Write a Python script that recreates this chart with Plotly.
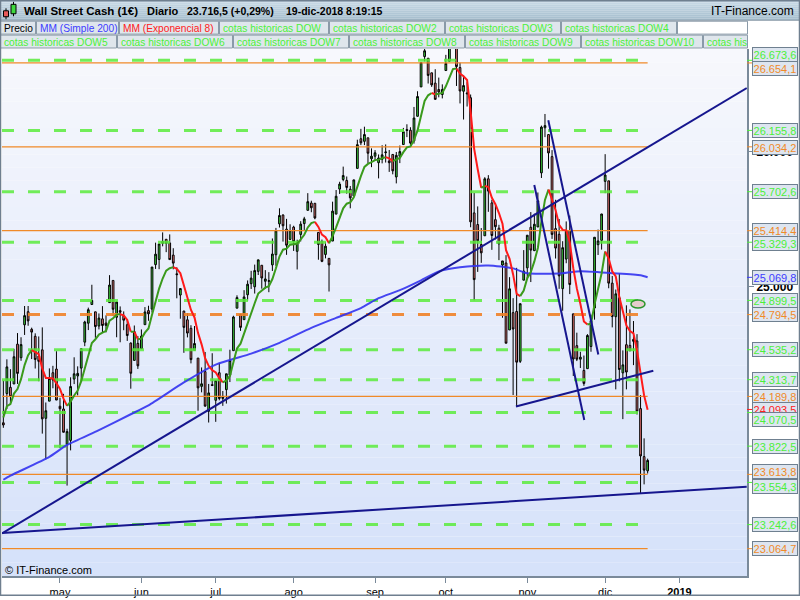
import plotly.graph_objects as go
import pandas as pd

FONT = "Liberation Sans, Arial, sans-serif"

# ---------------- data ----------------
dates = pd.bdate_range("2018-04-09", "2018-12-19")  # daily sessions (weekdays)

open_ = [
    # Apr
    23995, 24211, 24257, 24282, 24576, 24476, 24719, 24816, 24686, 24634, 24488, 24534, 24028, 24155, 24365, 24392,
    # May
    24117, 24097, 23836, 23865, 24318, 24341, 24399, 24591, 24731, 24869, 24815, 24710, 24763, 24732, 24883, 25047,
    24775, 24824, 24783, 24720, 24584, 24456, 24582,
    # Jun
    24542, 24720, 24824, 24835, 25164, 25202, 25334, 25351, 25324, 25234, 25096, 24939, 24821, 24756, 24693, 24531,
    24473, 24264, 24373, 24080, 24277,
    # Jul
    24161, 24365, 24175, 24240, 24347, 24528, 24842, 24795, 24757, 24941, 25023, 25000, 25114, 25159, 25041, 25041,
    25162, 25237, 25465, 25530, 25426, 25350,
    # Aug
    25441, 25262, 25387, 25467, 25565, 25619, 25617, 25402, 25335, 25239, 25210, 25338, 25537, 25722, 25793, 25786,
    25721, 25672, 25875, 26094, 26075, 26101, 25946,
    # Sep
    25965, 25917, 25942, 25991, 25930, 25978, 25812, 25965, 26051, 26162, 26157, 26078, 26260, 26477, 26701, 26689,
    26581, 26505, 26458, 26421,
    # Oct
    26598, 26667, 26833, 26804, 26620, 26445, 26425, 26397, 25546, 25460, 25312, 25377, 25798, 25620, 25496, 25433,
    25161, 25176, 24681, 24809, 24818, 24449, 25049,
    # Nov
    25140, 25440, 25267, 25442, 25842, 26175, 26125, 25962, 25430, 25388, 24986, 25205, 25416, 24800, 24565, 24465,
    24382, 24395, 24559, 24843, 25311, 25343,
    # Dec
    25779, 25783, 25027, 24779, 24919, 24364, 24572, 24567, 24611, 24600, 24100, 23745, 23640,
]
high = [
    24307, 24464, 24391, 24542, 24658, 24627, 24858, 24858, 24698, 24656, 24633, 24700, 24145, 24397, 24416, 24524,
    24180, 24209, 23951, 24331, 24479, 24412, 24542, 24749, 24846, 25015, 24815, 24803, 24857, 24789, 25086, 25047,
    24894, 24855, 24818, 24760, 24589, 24714, 24636,
    24685, 24850, 24860, 25146, 25326, 25317, 25402, 25352, 25387, 25285, 25144, 24990, 24821, 24806, 24716, 24710,
    24473, 24404, 24518, 24282, 24509,
    24310, 24438, 24230, 24357, 24535, 24786, 24937, 24801, 24975, 25047, 25118, 25164, 25200, 25159, 25123, 25108,
    25357, 25435, 25580, 25536, 25502, 25462,
    25451, 25348, 25485, 25517, 25692, 25636, 25617, 25402, 25349, 25332, 25210, 25629, 25715, 25776, 25888, 25815,
    25745, 25791, 26087, 26167, 26183, 26101, 26023,
    26010, 25978, 26046, 26052, 26011, 25979, 25996, 26044, 26174, 26201, 26179, 26329, 26445, 26657, 26769, 26689,
    26582, 26608, 26546, 26496,
    26714, 26809, 26951, 26805, 26656, 26562, 26512, 26421, 25693, 25594, 25434, 25810, 25825, 25643, 25611, 25458,
    25191, 25234, 25071, 24916, 25140, 24875, 25271,
    25380, 25552, 25540, 25697, 26191, 26277, 26125, 26010, 25643, 25501, 25337, 25483, 25526, 24800, 24661, 24520,
    24492, 24650, 24794, 25367, 25423, 25539,
    25980, 25783, 25080, 24980, 25098, 24530, 24863, 24833, 24747, 24650, 24200, 23880, 23730,
]
low = [
    23958, 24097, 24128, 24282, 24282, 24453, 24644, 24712, 24466, 24396, 24302, 23915, 23724, 24155, 24250, 24163,
    23808, 23924, 23531, 23791, 24281, 24198, 24303, 24561, 24680, 24869, 24623, 24685, 24665, 24663, 24883, 24784,
    24627, 24590, 24679, 24600, 24247, 24456, 24393,
    24542, 24720, 24749, 24810, 25132, 25130, 25299, 25256, 25201, 25129, 24915, 24764, 24512, 24626, 24434, 24531,
    24084, 24220, 24115, 23997, 24266,
    24002, 24161, 24120, 24137, 24296, 24528, 24842, 24674, 24757, 24898, 24984, 24950, 25087, 24986, 24986, 24960,
    25117, 25155, 25438, 25334, 25236, 25350,
    25265, 25128, 25335, 25420, 25565, 25551, 25499, 25200, 25182, 25210, 24965, 25338, 25537, 25686, 25780, 25688,
    25580, 25672, 25875, 26047, 26047, 25912, 25884,
    25930, 25801, 25912, 25918, 25849, 25831, 25764, 25914, 26051, 26106, 26049, 26058, 26258, 26477, 26666, 26502,
    26477, 26385, 26400, 26392,
    26598, 26663, 26808, 26484, 26355, 26236, 26332, 25440, 24900, 25110, 25177, 25377, 25554, 25273, 25350, 25197,
    24771, 24583, 24681, 24200, 24114, 24437, 25049,
    25063, 25035, 25264, 25442, 25804, 26106, 25873, 25354, 25209, 24985, 24823, 25174, 24946, 24341, 24451, 24400,
    24268, 24395, 24520, 24757, 25235, 25275,
    25692, 24989, 24700, 24242, 24301, 24022, 24242, 24526, 24421, 24056, 23470, 23540, 23620,
]
close = [
    23979, 24408, 24189, 24483, 24360, 24573, 24787, 24748, 24665, 24463, 24449, 24024, 24084, 24322, 24311, 24163,
    24099, 23925, 23930, 24263, 24357, 24360, 24543, 24740, 24831, 24899, 24706, 24769, 24714, 24715, 25013, 24834,
    24887, 24812, 24753, 24640, 24361, 24668, 24416,
    24635, 24814, 24800, 25146, 25241, 25317, 25322, 25321, 25201, 25175, 25090, 24987, 24700, 24658, 24462, 24581,
    24253, 24283, 24118, 24216, 24271,
    24307, 24175, 24190, 24357, 24456, 24777, 24920, 24700, 24925, 25019, 25064, 25120, 25199, 25065, 25058, 25044,
    25242, 25414, 25527, 25451, 25307, 25415,
    25334, 25326, 25463, 25502, 25629, 25584, 25509, 25313, 25188, 25300, 25162, 25559, 25669, 25759, 25822, 25734,
    25657, 25790, 26050, 26064, 26125, 25987, 25965,
    25990, 25952, 25975, 25996, 25917, 25857, 25971, 25999, 26146, 26155, 26062, 26247, 26406, 26657, 26744, 26562,
    26492, 26385, 26440, 26458,
    26651, 26774, 26828, 26627, 26447, 26487, 26431, 25480, 25053, 25340, 25251, 25798, 25707, 25379, 25444, 25317,
    25191, 24583, 24985, 24688, 24443, 24875, 25116,
    25381, 25271, 25462, 25635, 26180, 26191, 25989, 25387, 25286, 25081, 25289, 25413, 25017, 24466, 24465, 24480,
    24286, 24640, 24749, 25366, 25339, 25538,
    25826, 25027, 24780, 24948, 24389, 24423, 24370, 24527, 24597, 24080, 23750, 23645, 23717,
]

ema_seed = 24050          # EMA(8) value just before the first visible session
ema_period = 8

sma200_dates = ["2018-04-09", "2018-04-11", "2018-04-26", "2018-05-03", "2018-05-16", "2018-05-29", "2018-06-05",
                "2018-06-19", "2018-07-02", "2018-07-16", "2018-07-26", "2018-08-08", "2018-08-17", "2018-08-28",
                "2018-09-04", "2018-09-12", "2018-09-20", "2018-09-27", "2018-10-05", "2018-10-17", "2018-10-26",
                "2018-11-01", "2018-11-15", "2018-11-22", "2018-12-05", "2018-12-17", "2018-12-19"]
sma200_values = [23574, 23604, 23743, 23831, 23941, 24058, 24124, 24293, 24425, 24506, 24586, 24696, 24770, 24843,
                 24916, 24975, 25048, 25114, 25144, 25158, 25136, 25100, 25100, 25114, 25100, 25085, 25070]

levels_green = [26673.6, 26155.8, 25702.6, 25329.3, 24899.5, 24535.2, 24313.7, 24070.5, 23822.5, 23554.3, 23242.6]
levels_orange = [26654.1, 26034.2, 25414.4, 24189.8, 23613.8, 23064.7]
levels_orange_dash = [24794.5]
sma_last = 25069.8
ema_last = 24093.5

# hand-drawn trend lines (start date, start price, end date, end price)
trend_x0 = ["2018-04-06 15:00", "2018-04-06 15:00", "2018-11-08 22:30", "2018-11-02 23:30", "2018-10-26 19:00"]
trend_y0 = [23178, 23180, 26231, 25752, 24115]
trend_x1 = ["2019-01-28 00:00", "2019-01-28 00:00", "2018-11-29 01:30", "2018-11-23 02:30", "2018-12-20 14:30"]
trend_y1 = [26469, 23523, 24500, 24016, 24379]

ellipse_x = ["2018-12-12 07:00", "2018-12-18 06:00"]
ellipse_y = [24843, 24902]

month_ticks = ["2018-05-01", "2018-06-01", "2018-07-02", "2018-08-01", "2018-09-03", "2018-10-01",
               "2018-11-01", "2018-12-03", "2019-01-01"]
month_labels = ["may", "jun", "jul", "ago", "sep", "oct", "nov", "dic", "<b>2019</b>"]

x_range = ["2018-04-06 14:53", "2019-01-28 01:40"]
y_range = [22862.8, 26757.2]

# ---------------- layout helpers ----------------
L, R, T, B = 2, 747, 49, 580
W, H = R - L, B - T


def pxx(x):
    return (x - L) / W


def pxy(y):
    return (B - y) / H


def fmt(v):
    s = f"{v:,.1f}"
    return s.replace(",", "X").replace(".", ",").replace("X", ".")


GREEN_TXT = "#4cf03a"
ORANGE = "#f08a28"
BLUE_TXT = "#3c3cff"
RED = "#ff2020"

fig = go.Figure()

# candles
fig.add_trace(go.Candlestick(
    x=dates, open=open_, high=high, low=low, close=close,
    increasing=dict(line=dict(color="#000000", width=1), fillcolor="#3fd83f"),
    decreasing=dict(line=dict(color="#000000", width=1), fillcolor="#f07878"),
    whiskerwidth=0, hoverinfo="skip", showlegend=False))

line_start = x_range[0]
line_end = dates[-1]

for v in levels_orange:
    fig.add_trace(go.Scatter(x=[line_start, line_end], y=[v, v], mode="lines",
                             line=dict(color=ORANGE, width=1.2), hoverinfo="skip", showlegend=False))
for v in levels_green:
    fig.add_trace(go.Scatter(x=[line_start, line_end], y=[v, v], mode="lines",
                             line=dict(color="rgba(90,235,60,0.85)", width=3, dash="12px,14px"),
                             hoverinfo="skip", showlegend=False))
for v in levels_orange_dash:
    fig.add_trace(go.Scatter(x=[line_start, line_end], y=[v, v], mode="lines",
                             line=dict(color="rgba(240,130,40,0.9)", width=3, dash="12px,14px"),
                             hoverinfo="skip", showlegend=False))

# SMA 200
fig.add_trace(go.Scatter(x=sma200_dates, y=sma200_values, mode="lines",
                         line=dict(color="rgba(50,50,240,0.9)", width=2, shape="spline", smoothing=0.6),
                         hoverinfo="skip", showlegend=False))

# EMA 8, green while rising, red while falling
alpha = 2 / (ema_period + 1)
ema = []
prev = ema_seed
for c in close:
    prev = prev + alpha * (c - prev)
    ema.append(prev)

runs = []
for i in range(1, len(ema)):
    up = ema[i] >= ema[i - 1]
    if runs and runs[-1][0] == up:
        runs[-1][2] = i
    else:
        runs.append([up, i - 1, i])
for up, a, b in runs:
    fig.add_trace(go.Scatter(x=list(dates[a:b + 1]), y=ema[a:b + 1], mode="lines",
                             line=dict(color="#3a9a1c" if up else "#ff1a1a", width=2),
                             hoverinfo="skip", showlegend=False))

# trend lines
for x0, y0, x1, y1 in zip(trend_x0, trend_y0, trend_x1, trend_y1):
    fig.add_trace(go.Scatter(x=[x0, x1], y=[y0, y1], mode="lines",
                             line=dict(color="#16168e", width=2), hoverinfo="skip", showlegend=False))

shapes = []
# plot background gradient
n = 40
for i in range(n):
    t = i / (n - 1)
    r = int(247 + (214 - 247) * t)
    g = int(248 + (226 - 248) * t)
    b_ = int(253 + (250 - 253) * t)
    shapes.append(dict(type="rect", xref="paper", yref="paper", x0=0, x1=1,
                       y0=1 - (i + 1) / n, y1=1 - i / n, line=dict(width=0),
                       fillcolor=f"rgb({r},{g},{b_})", layer="below"))

# ellipse annotation drawn on the chart
shapes.append(dict(type="circle", xref="x", yref="y", x0=ellipse_x[0], x1=ellipse_x[1],
                   y0=ellipse_y[0], y1=ellipse_y[1], fillcolor="#e6cccc", line=dict(color="#2a962a", width=1.5)))

# title bar gradient
m = 10
for i in range(m):
    t = i / (m - 1)
    r = int(200 + (166 - 200) * t)
    g = int(218 + (190 - 218) * t)
    b_ = int(230 + (206 - 230) * t)
    shapes.append(dict(type="rect", xref="paper", yref="paper", x0=pxx(0), x1=pxx(800),
                       y0=pxy(20 * (i + 1) / m), y1=pxy(20 * i / m), line=dict(width=0),
                       fillcolor=f"rgb({r},{g},{b_})"))
shapes.append(dict(type="line", xref="paper", yref="paper", x0=pxx(0), x1=pxx(800), y0=pxy(20), y1=pxy(20),
                   line=dict(color="#8696a4", width=1)))

# icon in title bar
shapes += [
    dict(type="line", xref="paper", yref="paper", x0=pxx(6), x1=pxx(6), y0=pxy(8), y1=pxy(19),
         line=dict(color="#000", width=1)),
    dict(type="rect", xref="paper", yref="paper", x0=pxx(3.5), x1=pxx(8.5), y0=pxy(16.5), y1=pxy(10.5),
         fillcolor="#e85a5a", line=dict(color="#000", width=1)),
    dict(type="line", xref="paper", yref="paper", x0=pxx(13.5), x1=pxx(13.5), y0=pxy(1.5), y1=pxy(16),
         line=dict(color="#000", width=1)),
    dict(type="rect", xref="paper", yref="paper", x0=pxx(11), x1=pxx(16), y0=pxy(13.5), y1=pxy(4),
         fillcolor="#3fd83f", line=dict(color="#000", width=1)),
]

# legend rows
legend_row1 = [("Precio", "#000000", 0, 35), ("MM (Simple 200)", BLUE_TXT, 36, 118),
               ("MM (Exponencial 8)", RED, 119, 218), ("cotas historicas DOW", GREEN_TXT, 219, 328),
               ("cotas historicas DOW2", GREEN_TXT, 329, 444), ("cotas historicas DOW3", GREEN_TXT, 445, 560),
               ("cotas historicas DOW4", GREEN_TXT, 561, 676)]
legend_row2 = [("cotas historicas DOW5", GREEN_TXT, 0, 116), ("cotas historicas DOW6", GREEN_TXT, 117, 232),
               ("cotas historicas DOW7", GREEN_TXT, 233, 348), ("cotas historicas DOW8", GREEN_TXT, 349, 464),
               ("cotas historicas DOW9", GREEN_TXT, 465, 580), ("cotas historicas DOW10", GREEN_TXT, 581, 702),
               ("cotas his", GREEN_TXT, 703, 747)]
annotations = []
for row, (ya, yb) in ((legend_row1, (21, 34)), (legend_row2, (35, 48))):
    for txt, col, xa, xb in row:
        shapes.append(dict(type="rect", xref="paper", yref="paper", x0=pxx(xa + 0.5), x1=pxx(xb + 0.5),
                           y0=pxy(yb), y1=pxy(ya), fillcolor="#dfe6ec", line=dict(color="#8a9aa8", width=1)))
        annotations.append(dict(text=txt, xref="paper", yref="paper", x=pxx(xa + 1.5), y=pxy((ya + yb) / 2 + 0.5),
                                xanchor="left", yanchor="middle", showarrow=False,
                                font=dict(family=FONT, size=10.2, color=col)))
shapes.append(dict(type="rect", xref="paper", yref="paper", x0=pxx(677.5), x1=pxx(747.5), y0=pxy(34),
                   y1=pxy(21), fillcolor="#ffffff", line=dict(color="#8a9aa8", width=1)))

# outer frame
shapes.append(dict(type="rect", xref="paper", yref="paper", x0=pxx(0.5), x1=pxx(799.5), y0=pxy(599.5),
                   y1=pxy(0.5), line=dict(color="#6f7f8f", width=1.5)))

# title texts
for txt, x0, fs in (("Wall Street Cash (1€)", 22, 11.5), ("Diario", 145, 11), ("23.716,5 (+0,29%)", 185, 10.5),
                    ("19-dic-2018 8:19:15", 284, 10.5)):
    annotations.append(dict(text=txt, xref="paper", yref="paper", x=pxx(x0), y=pxy(10.5), xanchor="left",
                            yanchor="middle", showarrow=False,
                            font=dict(family=FONT, size=fs, color="#000", weight="bold")))
annotations.append(dict(text="IT-Finance.com", xref="paper", yref="paper", x=pxx(796), y=pxy(10.5),
                        xanchor="right", yanchor="middle", showarrow=False,
                        font=dict(family=FONT, size=12, color="#000")))
annotations.append(dict(text="© IT-Finance.com", xref="paper", yref="paper", x=pxx(3), y=pxy(574),
                        xanchor="left", yanchor="middle", showarrow=False,
                        font=dict(family=FONT, size=11, color="#000")))

# right-hand value labels
label_values = [26673.6, 26654.1, 26155.8, 26034.2, 25702.6, 25414.4, 25329.3, 25069.8, 24899.5, 24794.5,
                24535.2, 24313.7, 24189.8, 24093.5, 24070.5, 23822.5, 23613.8, 23554.3, 23242.6, 23064.7]
label_shift = {26673.6: 6, 26654.1: -6, 26034.2: -0.7, 25329.3: -1.4, 24070.5: -7, 23613.8: 2.5, 23554.3: -3.7}


def label_color(v):
    if v == sma_last:
        return BLUE_TXT
    if v == ema_last:
        return RED
    if v in levels_orange or v in levels_orange_dash:
        return ORANGE
    return GREEN_TXT


for v in label_values:
    c = label_color(v)
    shapes.append(dict(type="line", xref="paper", yref="y", x0=pxx(747), x1=pxx(752), y0=v, y1=v,
                       line=dict(color=c, width=1)))
    annotations.append(dict(text=fmt(v), xref="paper", yref="y", x=pxx(752), y=v, yshift=label_shift.get(v, 0),
                            xanchor="left", yanchor="middle", showarrow=False, width=44, height=13,
                            bgcolor="#dde5f0", bordercolor="#6f8090", borderwidth=1, borderpad=0,
                            font=dict(family=FONT, size=11, color=c)))

fig.update_layout(
    width=800, height=600,
    margin=dict(l=L, r=800 - R, t=T, b=600 - B, pad=0),
    paper_bgcolor="#ffffff", plot_bgcolor="#ffffff",
    separators=",.",
    showlegend=False, hovermode=False,
    shapes=shapes, annotations=annotations,
    xaxis=dict(type="date", range=x_range, rangebreaks=[dict(bounds=["sat", "mon"])],
               rangeslider=dict(visible=False), showgrid=False, zeroline=False,
               tickvals=month_ticks, ticktext=month_labels, ticks="outside", ticklen=5,
               tickcolor="#7a8a9a", showline=True, linecolor="#7a8a9a", linewidth=2,
               tickfont=dict(family=FONT, size=11, color="#000")),
    yaxis=dict(side="right", range=y_range, showgrid=False, zeroline=False,
               tickvals=[25000, 26000], ticktext=["<b>25.000</b>", "<b>26.000</b>"],
               ticks="outside", ticklen=5, tickcolor="#7a8a9a", showline=True, linecolor="#7a8a9a",
               linewidth=2, tickfont=dict(family=FONT, size=12, color="#000")),
)

fig.write_html("out.html", config={"displayModeBar": False},
               post_script="document.body.style.margin='0';document.body.style.padding='0';")
